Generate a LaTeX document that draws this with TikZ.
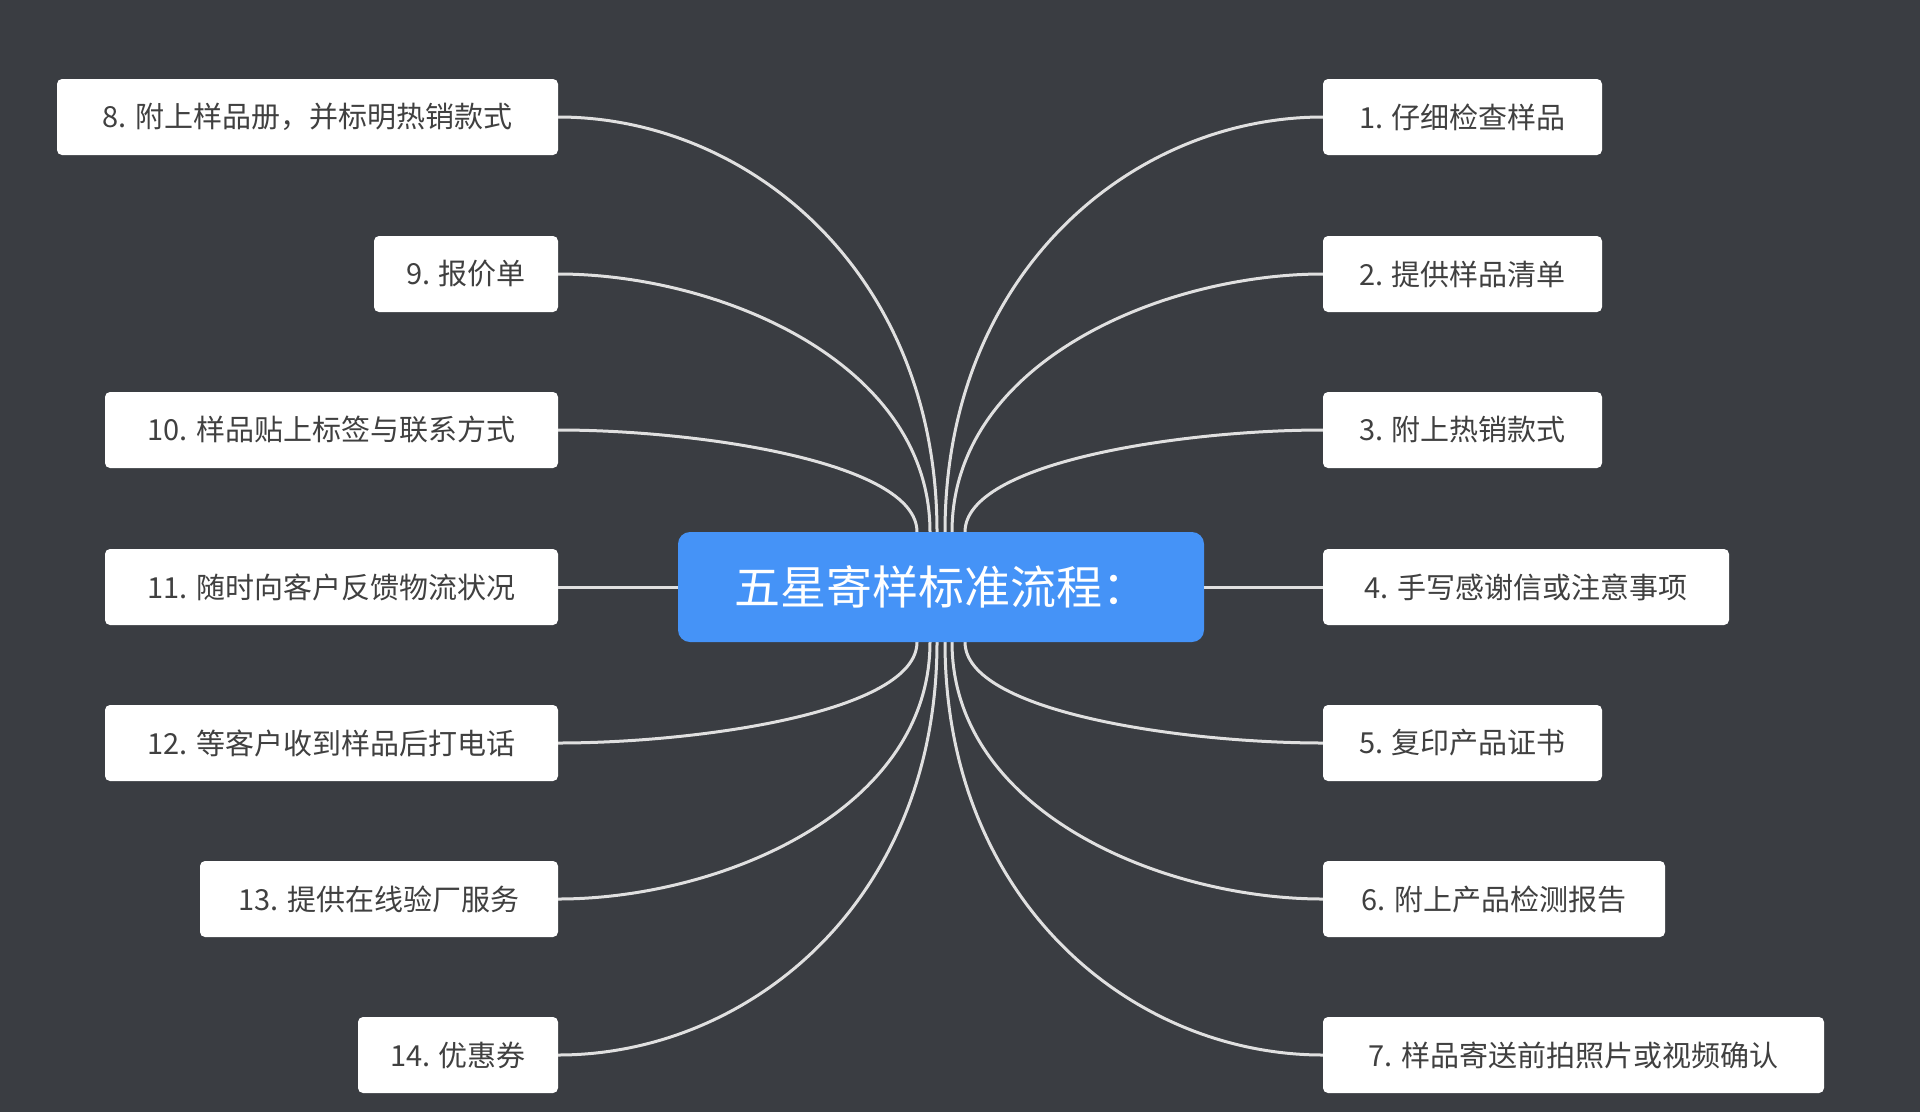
\documentclass[tikz,border=0pt]{standalone}
\usepackage{fontspec}
\usetikzlibrary{calc}
\setmainfont{Noto Sans CJK SC}
\begin{document}
\begin{tikzpicture}[x=1pt,y=-1pt,
 leaf/.style={fill=white,rounded corners=5pt,minimum height=76pt,inner sep=0pt,text=black!75,font=\fontsize{29}{32}\selectfont},
 link/.style={draw=black!12,line width=3pt}]
\fill[fill={rgb,255:red,58;green,61;blue,66}] (0,0) rectangle (1920,1112);
\useasboundingbox (0,0) rectangle (1920,1112);
\def\lf#1#2#3#4#5{\node[leaf,minimum width={#3-#2}] (#1) at ({(#2+#3)/2},#4) {#5};}
\lf{n1}{1323}{1602}{117}{1. 仔细检查样品}
\lf{n2}{1323}{1602}{274}{2. 提供样品清单}
\lf{n3}{1323}{1602}{430}{3. 附上热销款式}
\lf{n4}{1323}{1729}{587}{4. 手写感谢信或注意事项}
\lf{n5}{1323}{1602}{743}{5. 复印产品证书}
\lf{n6}{1323}{1665}{899}{6. 附上产品检测报告}
\lf{n7}{1323}{1824}{1055}{7. 样品寄送前拍照片或视频确认}
\lf{n8}{57}{558}{117}{8. 附上样品册，并标明热销款式}
\lf{n9}{374}{558}{274}{9. 报价单}
\lf{n10}{105}{558}{430}{10. 样品贴上标签与联系方式}
\lf{n11}{105}{558}{587}{11. 随时向客户反馈物流状况}
\lf{n12}{105}{558}{743}{12. 等客户收到样品后打电话}
\lf{n13}{200}{558}{899}{13. 提供在线验厂服务}
\lf{n14}{358}{558}{1055}{14. 优惠券}
\foreach \n/\sx/\k/\d in {n1/945/260/190,n2/952/170/160,n3/965/70/140}{
 \draw[link] (\sx,532) .. controls (\sx,532-\k) and ($(\n.west)+(-\d,0)$) .. (\n.west);
}
\foreach \n/\sx/\k/\d in {n5/965/70/140,n6/952/170/160,n7/945/260/190}{
 \draw[link] (\sx,642) .. controls (\sx,642+\k) and ($(\n.west)+(-\d,0)$) .. (\n.west);
}
\foreach \n/\sx/\k/\d in {n8/937/260/190,n9/930/170/160,n10/917/70/140}{
 \draw[link] (\sx,532) .. controls (\sx,532-\k) and ($(\n.east)+(\d,0)$) .. (\n.east);
}
\foreach \n/\sx/\k/\d in {n14/937/260/190,n13/930/170/160,n12/917/70/140}{
 \draw[link] (\sx,642) .. controls (\sx,642+\k) and ($(\n.east)+(\d,0)$) .. (\n.east);
}
\node[fill={rgb,255:red,69;green,147;blue,247},rounded corners=12pt,minimum width=526pt,minimum height=110pt,text=white,font=\fontsize{46}{50}\selectfont] (c) at (941,587) {五星寄样标准流程：};
\draw[link] (c.east) -- (n4.west);
\draw[link] (c.west) -- (n11.east);
\end{tikzpicture}
\end{document}
